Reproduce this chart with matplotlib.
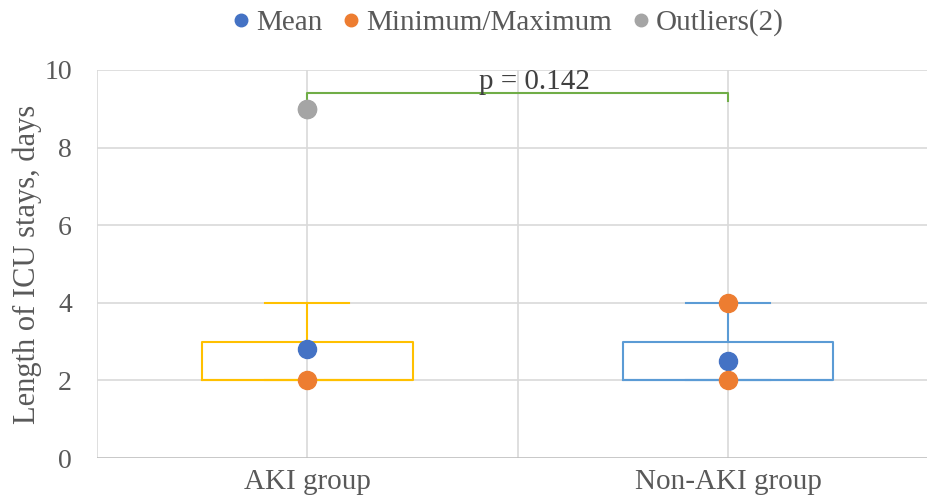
import matplotlib.pyplot as plt
from matplotlib.lines import Line2D

groups = ['AKI group', 'Non-AKI group']
q1 = [2, 2]
q3 = [3, 3]
med = [2, 2]
whislo = [2, 2]
whishi = [4, 4]
means = [2.8, 2.5]
minmax_x = [0, 1, 1]
minmax_y = [2, 2, 4]
outliers_x = [0, 0]
outliers_y = [9, 9]
p_text = 'p = 0.142'
box_colors = ['#FFC000', '#5B9BD5']

plt.rcParams['font.family'] = ['Liberation Serif', 'DejaVu Serif']
txt = '#595959'

fig = plt.figure(figsize=(9.28, 4.97), dpi=100)
ax = fig.add_axes([97 / 928, 1 - 458 / 497, 1 - 97 / 928, (458 - 70) / 497])

# grid
for x in [-0.5, 0, 0.5, 1]:
    ax.axvline(x, color='#D9D9D9', lw=1.2, zorder=0)
for y in [2, 4, 6, 8, 10]:
    ax.axhline(y, color='#D9D9D9', lw=1.2, zorder=0)
ax.axhline(0, color='#BFBFBF', lw=1.2, zorder=0)

stats = []
for i in range(len(groups)):
    stats.append(dict(q1=q1[i], q3=q3[i], med=med[i], whislo=whislo[i],
                      whishi=whishi[i], fliers=[], label=groups[i]))
for i in range(len(groups)):
    c = box_colors[i]
    ax.bxp([stats[i]], positions=[i], widths=0.5, capwidths=0.2, showfliers=False,
           boxprops=dict(color=c, lw=1.5), whiskerprops=dict(color=c, lw=1.5),
           capprops=dict(color=c, lw=1.5), medianprops=dict(color=c, lw=1.5),
           manage_ticks=False, zorder=2)

ax.plot(range(len(groups)), means, 'o', color='#4472C4', ms=13, zorder=4)
ax.plot(minmax_x, minmax_y, 'o', color='#ED7D31', ms=13, zorder=4)
ax.plot(outliers_x, outliers_y, 'o', color='#A5A5A5', ms=13, zorder=4)

# significance bracket
ax.plot([0, 0, 1, 1], [9.2, 9.41, 9.41, 9.2], color='#70AD47', lw=1.5, zorder=3)
ax.text(0.54, 9.5, p_text, ha='center', va='baseline', fontsize=21, color='#404040')

ax.set_xlim(-0.5, 1.475)
ax.set_ylim(0, 10)
ax.set_xticks(range(len(groups)))
ax.set_xticklabels(groups)
ax.set_yticks([0, 2, 4, 6, 8, 10])
ax.tick_params(length=0, colors=txt)
ax.tick_params(axis='x', labelsize=21, pad=8)
ax.tick_params(axis='y', labelsize=20, pad=18)
for s in ax.spines.values():
    s.set_visible(False)
ax.set_ylabel('Length of ICU stays, days', fontsize=22, color=txt, labelpad=2)

handles = [Line2D([], [], marker='o', ls='', color=c, ms=9)
           for c in ['#4472C4', '#ED7D31', '#A5A5A5']]
fig.legend(handles, ['Mean', 'Minimum/Maximum', 'Outliers(2)'], loc='center',
           bbox_to_anchor=(505 / 928, 1 - 23 / 497), ncol=3, frameon=False,
           fontsize=21, labelcolor=txt, handletextpad=0.0, columnspacing=0.5,
           handlelength=1.0)

fig.savefig('out.png', dpi=100)
